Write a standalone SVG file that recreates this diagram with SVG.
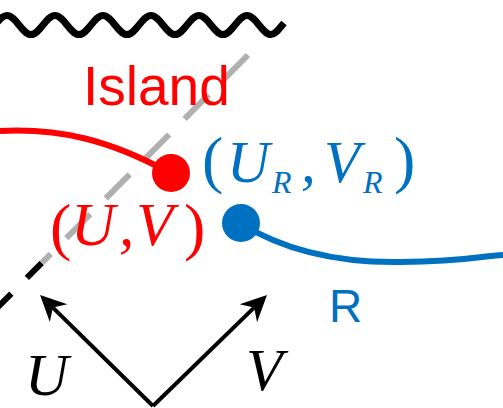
<svg xmlns="http://www.w3.org/2000/svg" width="503" height="408" viewBox="0 0 503 408">
<style>
.sans{font-family:"Liberation Sans",Arial,sans-serif}
.math{font-family:"Liberation Serif","Times New Roman",serif;font-style:italic}
.par{font-family:"Liberation Serif","Times New Roman",serif;font-style:normal}
.red{fill:#ff0000}
.blue{fill:#0070c0}
.blk{fill:#000000}
</style>
<defs>
<linearGradient id="dashGrad" gradientUnits="userSpaceOnUse" x1="248" y1="55" x2="-2" y2="307">
<stop offset="0" stop-color="#b0b0b0"/>
<stop offset="0.825" stop-color="#b0b0b0"/>
<stop offset="0.825" stop-color="#000000"/>
<stop offset="1" stop-color="#000000"/>
</linearGradient>
<marker id="stealth" markerUnits="userSpaceOnUse" orient="auto" markerWidth="60" markerHeight="60" refX="0" refY="0" viewBox="-30 -30 60 60" overflow="visible">
<path d="M18,0 L-8,-12.5 L0,0 L-8,12.5 Z" fill="#000000"/>
</marker>
</defs>

<g id="horizon">
<path d="M-17,34.5 C-8.270,34.5 -1.73,15.5 7,15.5 C15.73,15.5 22.27,34.5 31,34.5 C39.73,34.5 46.27,15.5 55,15.5 C63.73,15.5 70.27,34.5 79,34.5 C87.73,34.5 94.27,15.5 103,15.5 C111.73,15.5 118.27,34.5 127,34.5 C135.73,34.5 142.27,15.5 151,15.5 C159.73,15.5 166.27,34.5 175,34.5 C183.73,34.5 190.27,15.5 199,15.5 C207.73,15.5 214.27,34.5 223,34.5 C231.73,34.5 238.27,15.5 247,15.5 C255.73,15.5 262.27,34.5 271,34.5 C275.4,34.5 279,29 284,23" fill="none" stroke="#000000" stroke-width="7"/>
</g>

<g id="connectors">
<line x1="248" y1="55" x2="-2" y2="307" stroke="url(#dashGrad)" stroke-width="6" stroke-dasharray="34 22"/>
<path id="island-curve" d="M0,131 C60,128 110,140 170,173" fill="none" stroke="#ff0000" stroke-width="6"/>
<path id="r-curve" d="M240,223 C280,248 330,263 400,262 S480,256 503,255" fill="none" stroke="#0070c0" stroke-width="6"/>
<line x1="153" y1="406" x2="52.9" y2="307.6" stroke="#000000" stroke-width="4" marker-end="url(#stealth)"/>
<line x1="153" y1="406" x2="254.1" y2="307.6" stroke="#000000" stroke-width="4" marker-end="url(#stealth)"/>
</g>

<g id="island-point">
<circle cx="171" cy="173" r="19" fill="#ff0000"/>
</g>
<g id="r-point">
<circle cx="241" cy="223" r="19" fill="#0070c0"/>
</g>

<g id="island-label">
<text class="sans red" x="83" y="105" font-size="55">Island</text>
</g>
<g id="r-label">
<text class="sans blue" x="329" y="322" font-size="46">R</text>
</g>

<g id="uv-label">
<text class="par red" x="50" y="248" font-size="64">(</text>
<text class="math red" x="71" y="245" font-size="61">U</text>
<text class="math red" x="119" y="245" font-size="61">,</text>
<text class="math red" x="136" y="245" font-size="61">V</text>
<text class="par red" x="184" y="248" font-size="64">)</text>
</g>

<g id="uvr-label">
<text class="par blue" x="202" y="181" font-size="64">(</text>
<text class="math blue" x="227" y="182" font-size="59">U</text>
<text class="math blue" x="272" y="193" font-size="32">R</text>
<text class="math blue" x="301" y="182" font-size="59">,</text>
<text class="math blue" x="324" y="182" font-size="59">V</text>
<text class="math blue" x="363" y="193" font-size="32">R</text>
<text class="par blue" x="394" y="181" font-size="64">)</text>
</g>

<g id="axis-labels">
<text class="math blk" x="25" y="395" font-size="60">U</text>
<text class="math blk" x="246" y="390" font-size="60">V</text>
</g>
</svg>
